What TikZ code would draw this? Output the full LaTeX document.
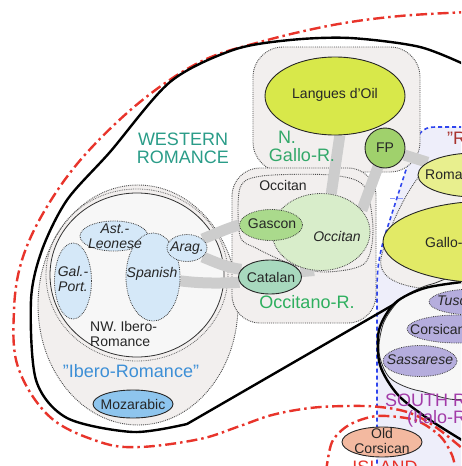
\documentclass[tikz,border=0pt]{standalone}
\usepackage{fontspec}
\setmainfont{Liberation Sans}
\usetikzlibrary{shapes.geometric}
\definecolor{redline}{HTML}{E8342B}
\definecolor{regiongray}{HTML}{F2EFEE}
\definecolor{lavender}{HTML}{EEEEFA}
\definecolor{bluedash}{HTML}{2F45EE}
\definecolor{bandgray}{HTML}{CDCDCD}
\definecolor{iberoblue}{HTML}{D5E8F8}
\definecolor{mozc}{HTML}{8EC5EE}
\definecolor{oilc}{HTML}{D8E84A}
\definecolor{fpc}{HTML}{A0D16C}
\definecolor{occc}{HTML}{D8EDCA}
\definecolor{gasc}{HTML}{AADA8C}
\definecolor{catc}{HTML}{A8D9BE}
\definecolor{romc}{HTML}{E8EF8E}
\definecolor{galc}{HTML}{E2EA66}
\definecolor{purpc}{HTML}{B5ADDD}
\definecolor{oldc}{HTML}{F3B9A0}
\definecolor{tealt}{HTML}{2A9C88}
\definecolor{greent}{HTML}{33A86A}
\definecolor{occt}{HTML}{2EAF5E}
\definecolor{bluet}{HTML}{3D8FD6}
\definecolor{purpt}{HTML}{A23BA8}
\definecolor{darkred}{HTML}{A8322D}
\pgfdeclarelayer{bands}
\pgfdeclarelayer{top}
\pgfsetlayers{main,bands,top}
\begin{document}
\begin{tikzpicture}[x=1pt,y=-1pt,
  reddash/.style={draw=redline, line width=2.4pt, dash pattern=on 11pt off 4pt on 2.5pt off 4pt},
  westline/.style={draw=black, line width=2.4pt},
  region/.style={draw=black!70, densely dotted, line width=0.9pt, fill=regiongray},
  lang/.style={ellipse, draw=black!75, densely dotted, line width=0.8pt, inner sep=0pt},
  langsolid/.style={ellipse, draw=black!85, line width=0.9pt, inner sep=0pt},
  band/.style={draw=bandgray, line width=11pt},
  lbl/.style={font=\fontsize{14}{15}\selectfont, inner sep=0pt, align=center, text=black!85},
  ilbl/.style={lbl, font=\fontsize{14}{15}\selectfont\itshape},
  grp/.style={font=\fontsize{18}{18}\selectfont, inner sep=0pt, align=center},
]
\useasboundingbox (0,0) rectangle (461,466);
\clip (0,0) rectangle (461,466);

% blue dashed region (right)
\path[fill=lavender] (470,127) -- (435,127) .. controls (422,127) and (418,134) .. (413,148) -- (386,232) .. controls (379,255) and (377,268) .. (377,290) -- (377,470) -- (470,470) -- cycle;
\draw[draw=bluedash, line width=1.6pt, dash pattern=on 4pt off 3pt] (470,127) -- (435,127) .. controls (422,127) and (418,134) .. (413,148) -- (386,232) .. controls (379,255) and (377,268) .. (377,290) -- (377,470);
\draw[draw=bluedash!55, line width=0.8pt, dash pattern=on 5pt off 3pt] (390,198) -- (470,198);

% red dash-dot outer boundary
\draw[reddash] plot[smooth, tension=0.6] coordinates {(470,12) (400,16) (333,25) (260,42) (200,62) (140,102) (83,157) (45,210) (22,260) (14,310) (18,367) (50,417) (100,442) (140,447) (200,439) (240,426) (272,415) (310,408) (347,406) (380,407) (410,413) (437,428) (470,455)};
% island
\draw[reddash] plot[smooth] coordinates {(326,472) (332,442) (349,425) (377,416) (415,420) (440,436) (452,455) (456,472)};

% Western Romance boundary
\draw[westline] plot[smooth] coordinates {(470,67) (420,47) (350,38) (290,40) (233,50) (170,82) (110,152) (67,200) (42,250) (31,300) (36,380) (67,418) (133,432) (187,424)} -- (405,298) .. controls (425,287) and (445,284) .. (470,283);

% Ibero-Romance region
\draw[region] (138,305) ellipse [x radius=100pt, y radius=120pt];
\draw[draw=black!60, densely dotted, line width=0.8pt] (137,275) ellipse [x radius=91pt, y radius=86pt];
\draw[draw=black!80, line width=0.8pt, fill=white!97!black] (137,275) ellipse [x radius=87pt, y radius=82pt];

% N. Gallo-Romance region
\draw[region, rounded corners=30pt] (253,47) rectangle (420,172);
% Occitano-Romance region
\draw[region, rounded corners=28pt] (232,168) rectangle (376,323);
\draw[draw=black!70, densely dotted, line width=0.9pt] plot[smooth cycle] coordinates {(240,188) (262,176) (330,175) (364,186) (373,230) (364,264) (322,272) (286,262) (256,248) (240,236)};

% Gallo-Italian / Rhaeto region
\draw[region] (470,160) -- (436,160) .. controls (412,175) and (388,228) .. (381,258) .. controls (378,280) and (400,291) .. (470,291);

% South Romance
\draw[draw=black!80, line width=0.8pt, fill=white!97!black] plot[smooth cycle] coordinates {(402,298) (384,322) (379,352) (390,378) (420,391) (470,393) (470,282) (432,284)};
\draw[westline] plot[smooth] coordinates {(470,281) (425,288) (395,303) (379,330) (380,365) (398,395) (430,420) (470,445)};

% ---- nodes ----
\begin{pgfonlayer}{top}
\node[lang, fill=iberoblue, minimum width=68pt, minimum height=30pt] (ast) at (114,236) {};
\node[lang, fill=iberoblue, minimum width=37pt, minimum height=76pt] (galp) at (73,281) {};
\node[lang, fill=iberoblue, minimum width=54pt, minimum height=88pt] (spanish) at (153,277) {};
\node[lang, fill=iberoblue, minimum width=40pt, minimum height=27pt] (arag) at (187,248) {};
\node[langsolid, fill=mozc, minimum width=80pt, minimum height=28pt] (moz) at (133,404) {};

\node[langsolid, fill=oilc, minimum width=140pt, minimum height=78pt] (oil) at (335,96) {};
\node[langsolid, fill=fpc, minimum width=40pt, minimum height=40pt] (fp) at (385,148) {};
\node[lang, fill=occc, minimum width=98pt, minimum height=77pt] (occ) at (321,232) {};
\node[lang, fill=gasc, minimum width=63pt, minimum height=31pt] (gascon) at (271,225) {};
\node[langsolid, fill=catc, minimum width=63pt, minimum height=34pt] (catalan) at (270,277) {};

\node[langsolid, fill=romc, minimum width=114pt, minimum height=44pt] (romansh) at (475,175) {};
\node[langsolid, fill=galc, minimum width=214pt, minimum height=82pt] (gallo) at (490,242) {};

\node[lang, fill=purpc, minimum width=90pt, minimum height=26pt] (tuscan) at (474,302) {};
\node[lang, fill=purpc, minimum width=100pt, minimum height=28pt] (corsican) at (457,329) {};
\node[lang, fill=purpc, minimum width=74pt, minimum height=31pt] (sassarese) at (420,361) {};
\node[langsolid, fill=oldc, minimum width=80pt, minimum height=30pt] (oldcors) at (382,442) {};

% labels
\node[ilbl] (astT) at (115,236) {Ast.-\\Leonese};
\node[ilbl] (galpT) at (73,279) {Gal.-\\Port.};
\node[ilbl] (spanishT) at (152,274) {Spanish};
\node[ilbl] (aragT) at (187,248) {Arag.};
\node[lbl] (mozT) at (133,404) {Mozarabic};
\node[lbl] (oilT) at (335,95) {Langues d'Oil};
\node[lbl] (fpT) at (385,148) {FP};
\node[ilbl] (occT) at (337,236) {Occitan};
\node[lbl] (gasconT) at (272,224) {Gascon};
\node[lbl] (catalanT) at (271,277) {Catalan};
\node[lbl, anchor=west] (romanshT) at (425,174) {Romansh};
\node[lbl, anchor=west] (galloT) at (425,242) {Gallo-Italian};
\node[ilbl, anchor=west] (tuscanT) at (437,301) {Tuscan};
\node[lbl, anchor=west] (corsicanT) at (410,329) {Corsican};
\node[ilbl] (sassareseT) at (420,360) {Sassarese};
\node[lbl] (oldcorsT) at (382,441) {Old\\Corsican};
\node[lbl] (occsubT) at (283,185) {Occitan};
\node[lbl, anchor=west, align=left] (nwT) at (90,334) {NW. Ibero-\\Romance};

\node[grp, text=tealt] (westT) at (183,148) {WESTERN\\ROMANCE};
\node[grp, text=greent] (nT) at (287,137) {N.};
\node[grp, text=greent] (galloRT) at (302,155) {Gallo-R.};
\node[grp, text=occt] (occRT) at (307,302) {Occitano-R.};
\node[grp, text=bluet] (iberoT) at (131,371) {"Ibero-Romance"};
\node[grp, text=darkred, anchor=west] (rhaetoT) at (447,138) {"Rhaeto-Romance"};
\node[grp, text=purpt, anchor=west] (southT) at (385,400) {SOUTH ROMANCE};
\node[grp, text=purpt, anchor=west] (italoT) at (407,419) {(Italo-Romance)};
\node[grp, text=redline, anchor=base] (islandT) at (385,473) {ISLAND};
\end{pgfonlayer}

% ---- gray connectors ----
\begin{pgfonlayer}{bands}
\draw[band] (oil.-83) -- (occ.75);
\draw[band] (occ.28) -- (fp.center);
\draw[band] (fp.-20) -- (romansh.165);
\draw[band] (arag.30) .. controls (215,234) and (228,228) .. (gascon.west);
\draw[band] (arag.-30) .. controls (215,262) and (228,268) .. (catalan.165);
\draw[band] (spanish.-8) .. controls (205,284) and (225,283) .. (catalan.190);
\draw[band] (catalan.10) -- (occ.-100);
\end{pgfonlayer}
\end{tikzpicture}
\end{document}
